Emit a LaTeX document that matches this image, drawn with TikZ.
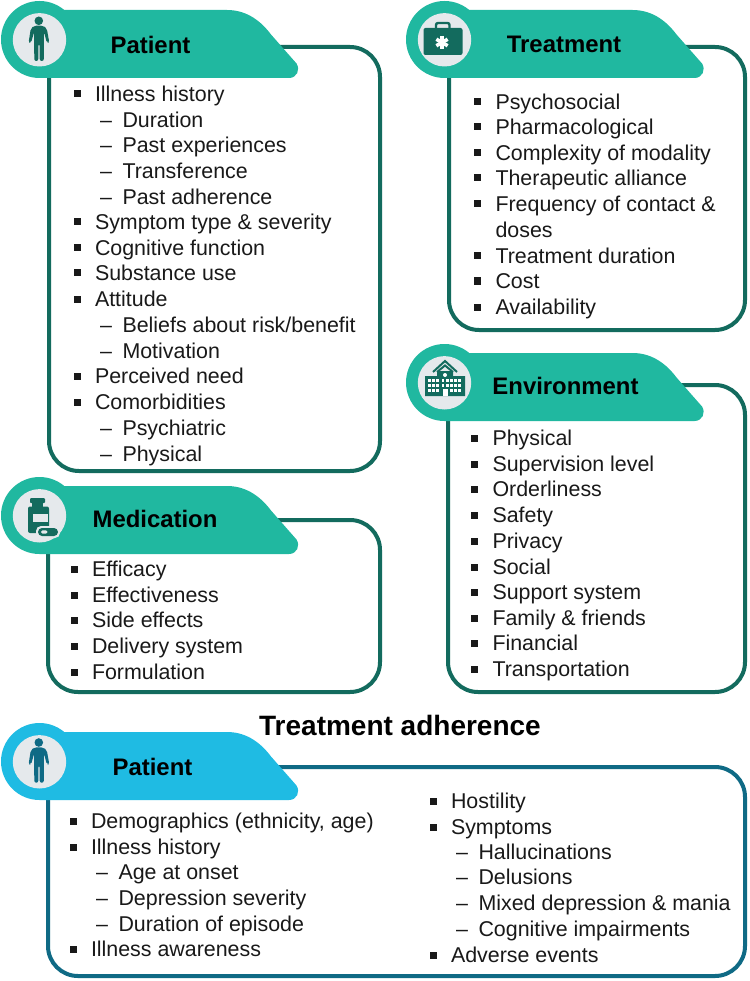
\documentclass[tikz,border=0pt]{standalone}
\usepackage{fontspec}
\setmainfont{Liberation Sans}
\newcount\itmno
\newcommand{\itmA}[3]{\global\advance\itmno by 1
  \node[bulletmark] (b\the\itmno) at (#1,#2) {};
  \node[itemtext] (t\the\itmno) at (#1+18,#2+7.5) {#3};}
\newcommand{\itmB}[3]{\global\advance\itmno by 1
  \node[itemtext] (b\the\itmno) at (#1+4,#2+7.5) {–};
  \node[itemtext] (t\the\itmno) at (#1+26.5,#2+7.5) {#3};}
\tikzset{
  x=1pt,y=-1pt,
  itemtext/.style={anchor=base west,inner sep=0pt,outer sep=0pt,font=\fontsize{21.4}{25}\selectfont,text=black!90},
  bulletmark/.style={fill=black!90,minimum size=7pt,inner sep=0pt,outer sep=0pt,rectangle},
  headtext/.style={inner sep=0pt,font=\fontsize{23.9}{28}\selectfont\bfseries,text=black},
  panel/.style={draw=#1,line width=4pt,rounded corners=30pt,fill=white},
  pics/person/.style={code={
    \fill[#1] (0.5,-17.2) circle (4.3);
    \fill[#1,rounded corners=2pt] (-4,-12.3) -- (5,-12.3) -- (8.5,-9.5) -- (11,4.5) -- (8.6,5) -- (5.7,-6) -- (5.5,23) -- (1.4,23) -- (1.4,6) -- (0,6) -- (0,23) -- (-4,23) -- (-4.2,-6) -- (-7.3,5) -- (-9.7,4.5) -- (-7.5,-9.5) -- cycle;
  }},
}
\definecolor{tealfill}{HTML}{20B8A0}
\definecolor{tealline}{HTML}{136B5E}
\definecolor{bluefill}{HTML}{1FBBE3}
\definecolor{blueline}{HTML}{0F6A85}
\definecolor{discgrey}{HTML}{E5E9EC}
% #1 circle cx, #2 circle cy, #3 tab right end, #4 fill
\newcommand{\tabhead}[4]{
  \fill[#4] (#1,#2) circle (38.5);
  \fill[#4] (#1+15,#2-29.5) -- (#3-71,#2-29.5)
     .. controls (#3-50,#2-29.5) and (#3-36,#2-17) .. (#3-27,#2-5)
     -- (#3-1.5,#2+24)
     .. controls (#3+2.5,#2+30) and (#3-1,#2+38.5) .. (#3-9,#2+38.5)
     -- (#1,#2+38.5) -- cycle;
  \fill[discgrey] (#1,#2+0.3) circle (26.7);
}
\begin{document}
\begin{tikzpicture}
\useasboundingbox (0,0) rectangle (749,981);
\fill[white] (0,0) rectangle (749,981);
% panels
\draw[panel=tealline] (49,47) rectangle (380,471);
\draw[panel=tealline] (449,47) rectangle (745,330);
\draw[panel=tealline] (448,385) rectangle (745,692);
\draw[panel=tealline] (48,520) rectangle (380,692);
\draw[panel=blueline] (48,767) rectangle (745,976);
% headers
\tabhead{39.5}{39.5}{298}{tealfill}
\tabhead{444.5}{39.5}{703.5}{tealfill}
\tabhead{444.5}{382.5}{703.5}{tealfill}
\tabhead{39.5}{515.5}{298}{tealfill}
\tabhead{39.5}{761.5}{298}{bluefill}
\node[headtext] (hpatient) at (150.5,45) {Patient};
\node[headtext] (htreatment) at (564,44.5) {Treatment};
\node[headtext] (henv) at (565.5,386) {Environment};
\node[headtext] (hmed) at (155,519) {Medication};
\node[headtext] (hpatient2) at (152.5,766.5) {Patient};
\node[inner sep=0pt,font=\fontsize{28}{32}\selectfont\bfseries] (title) at (400,725.5) {Treatment adherence};
% icons
\pic at (38.3,38) {person=tealline};
\pic at (38.3,759.7) {person=blueline};
% medical case
\fill[tealline,rounded corners=2pt] (423.5,28) rectangle (462.5,55);
\draw[tealline,line width=2.4pt,rounded corners=2pt] (436,28) -- (436,23) -- (449.5,23) -- (449.5,28);
\foreach \a in {0,60,120} \draw[white,line width=3.6pt,rotate around={\a:(442,42.5)}] (442,36) -- (442,49);
% hospital
\fill[tealline] (425,376) -- (437,376) -- (437,371) -- (453,371) -- (453,376) -- (465,376) -- (465,396) -- (425,396) -- cycle;
\draw[tealline,line width=2pt] (433,372) -- (445,361) -- (457,372);
\draw[tealline,line width=2pt] (437,372) -- (445,365.5) -- (453,372);
\foreach \xa in {428,432,436,450,454,458} \foreach \ya in {379,384,389} \fill[white] (\xa,\ya) rectangle +(3,3.4);
\foreach \xa in {441.5,446} \foreach \ya in {379,384} \fill[white] (\xa,\ya) rectangle +(2.6,3);
\fill[white] (442.5,389) rectangle (447.5,396);
\fill[white] (445,375) circle (2);
% bottle
\fill[tealline,rounded corners=1pt] (30,498) rectangle (45,503);
\fill[tealline] (32,503) rectangle (43,508);
\fill[tealline,rounded corners=2pt] (28,506.5) rectangle (49,533);
\fill[discgrey] (32.5,514) rectangle (48.2,522);
\fill[discgrey,rounded corners=5pt] (36,526) rectangle (60,538);
\fill[tealline,rounded corners=4pt] (38,528) rectangle (58,536);
\fill[discgrey,rounded corners=1.5pt] (41,530.3) rectangle (47.5,533.7);
% patient list
\itmA{77}{94}{Illness history}
\itmB{96}{120}{Duration}
\itmB{96}{145}{Past experiences}
\itmB{96}{171}{Transference}
\itmB{96}{197}{Past adherence}
\itmA{77}{222}{Symptom type \& severity}
\itmA{77}{248}{Cognitive function}
\itmA{77}{273}{Substance use}
\itmA{77}{299}{Attitude}
\itmB{96}{325}{Beliefs about risk/benefit}
\itmB{96}{351}{Motivation}
\itmA{77}{376}{Perceived need}
\itmA{77}{402}{Comorbidities}
\itmB{96}{428}{Psychiatric}
\itmB{96}{454}{Physical}
% treatment
\itmA{477.5}{102}{Psychosocial}
\itmA{477.5}{127}{Pharmacological}
\itmA{477.5}{153}{Complexity of modality}
\itmA{477.5}{178}{Therapeutic alliance}
\itmA{477.5}{204}{Frequency of contact \&}
\node[itemtext] (tdoses) at (495.5,237.5) {doses};
\itmA{477.5}{256}{Treatment duration}
\itmA{477.5}{281}{Cost}
\itmA{477.5}{307}{Availability}
% environment
\itmA{474.5}{438}{Physical}
\itmA{474.5}{464}{Supervision level}
\itmA{474.5}{489}{Orderliness}
\itmA{474.5}{515}{Safety}
\itmA{474.5}{541}{Privacy}
\itmA{474.5}{567}{Social}
\itmA{474.5}{592}{Support system}
\itmA{474.5}{618}{Family \& friends}
\itmA{474.5}{643}{Financial}
\itmA{474.5}{669}{Transportation}
% medication
\itmA{74}{569}{Efficacy}
\itmA{74}{595}{Effectiveness}
\itmA{74}{620}{Side effects}
\itmA{74}{646}{Delivery system}
\itmA{74}{672}{Formulation}
% bottom left
\itmA{73}{821}{Demographics (ethnicity, age)}
\itmA{73}{847}{Illness history}
\itmB{92}{872}{Age at onset}
\itmB{92}{898}{Depression severity}
\itmB{92}{924}{Duration of episode}
\itmA{73}{949}{Illness awareness}
% bottom right
\itmA{433}{801}{Hostility}
\itmA{433}{827}{Symptoms}
\itmB{452}{852}{Hallucinations}
\itmB{452}{877}{Delusions}
\itmB{452}{903}{Mixed depression \& mania}
\itmB{452}{929}{Cognitive impairments}
\itmA{433}{955}{Adverse events}
\end{tikzpicture}
\end{document}
